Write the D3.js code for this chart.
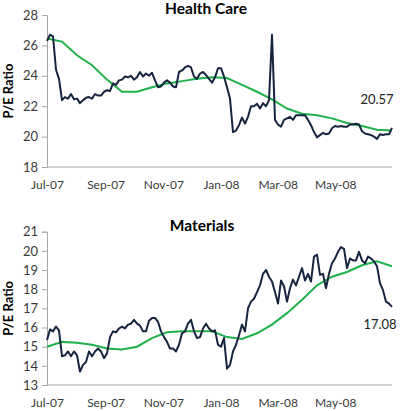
<!DOCTYPE html>
<html>
<head>
<meta charset="utf-8">
<script src="https://cdn.jsdelivr.net/npm/d3@7"></script>
<style>
  body { margin: 0; background: #fff; }
  svg { display: block; }
  .tick text { font-family: Lato, "Open Sans", sans-serif; fill: #3a3a3a; }
</style>
</head>
<body>
<div id="chart"></div>
<script>
var svgWidth = 400;
var svgHeight = 411;

// date range shown on both panels
var startDate = new Date(2007, 6, 1);
var endDate = new Date(2008, 5, 30);

var monthTicks = [new Date(2007, 6, 1), new Date(2007, 8, 1), new Date(2007, 10, 1),
                  new Date(2008, 0, 1), new Date(2008, 2, 1), new Date(2008, 4, 1)];

// Health Care P/E (evenly spaced readings across the year)
var hcPE = [26.3, 26.7, 26.6, 24.4, 23.8, 22.4, 22.6, 22.5, 22.8, 22.45,
  22.5, 22.2, 22.4, 22.55, 22.6, 22.5, 22.8, 22.7, 22.7, 22.95,
  23.05, 23.0, 23.5, 23.4, 23.7, 23.75, 23.95, 23.9, 24.0, 23.75,
  23.9, 24.25, 23.95, 24.15, 24.0, 24.2, 23.7, 23.25, 23.3, 23.55,
  23.7, 23.55, 23.3, 23.25, 24.25, 24.35, 24.55, 24.65, 24.55, 23.95,
  23.8, 24.15, 24.25, 24.05, 23.8, 23.55, 23.9, 24.5, 24.5, 23.95,
  23.25, 22.5, 20.3, 20.4, 20.75, 21.25, 20.85, 21.3, 22.0, 22.0,
  22.15, 21.85, 22.2, 22.0, 22.4, 26.7, 21.1, 20.8, 20.65, 21.1,
  21.2, 21.3, 21.1, 21.4, 21.4, 21.4, 21.4, 21.1, 20.75, 20.3,
  19.95, 20.1, 20.25, 20.15, 20.2, 20.55, 20.7, 20.65, 20.7, 20.65,
  20.65, 20.8, 20.8, 20.85, 20.8, 20.35, 20.2, 20.15, 20.1, 20.0,
  19.85, 20.15, 20.1, 20.15, 20.15, 20.57];

// Health Care moving average
var hcAvg = [26.45, 26.25, 25.35, 24.7, 23.75, 22.95, 22.95, 23.25, 23.5, 23.65,
  23.8, 23.9, 23.85, 23.4, 22.95, 22.45, 21.85, 21.5, 21.4, 21.2,
  20.9, 20.7, 20.45, 20.4];

// Materials P/E
var matPE = [15.35, 15.9, 15.8, 16.05, 15.85, 14.5, 14.55, 14.75, 14.5, 14.75,
  14.55, 13.7, 14.05, 14.2, 14.75, 14.5, 14.75, 14.9, 14.75, 14.4,
  14.65, 15.5, 15.8, 15.75, 15.95, 16.05, 15.95, 16.15, 16.2, 16.4,
  16.2, 16.1, 15.8, 15.8, 16.35, 16.5, 16.5, 16.3, 15.8, 15.5,
  15.25, 14.9, 14.9, 14.75, 15.1, 15.7, 15.8, 16.2, 16.4, 15.8,
  15.45, 15.5, 15.95, 16.2, 15.95, 15.8, 15.85, 15.1, 15.0, 15.45,
  13.85, 14.05, 14.75, 15.1, 15.6, 16.15, 15.8, 17.0, 17.35, 17.5,
  17.85, 18.2, 18.8, 19.0, 18.65, 18.4, 17.85, 17.25, 18.45, 18.15,
  17.35, 18.05, 18.5, 18.2, 18.65, 19.1, 18.45, 18.8, 18.4, 19.7,
  19.8, 18.75, 18.8, 18.05, 18.8, 19.35, 19.6, 19.95, 20.2, 20.1,
  19.1, 19.6, 19.5, 19.5, 19.95, 19.5, 19.35, 19.7, 19.6, 19.45,
  19.2, 18.3, 17.95, 17.35, 17.25, 17.08];

// Materials moving average
var matAvg = [15.0, 15.25, 15.2, 15.1, 14.9, 14.85, 15.0, 15.45, 15.75, 15.8,
  15.8, 15.8, 15.5, 15.4, 15.7, 16.15, 16.75, 17.45, 18.2, 18.65,
  18.9, 19.25, 19.45, 19.2];

var hcTicks = [18, 20, 22, 24, 26, 28];
var matTicks = [13, 14, 15, 16, 17, 18, 19, 20, 21];

var svg = d3.select("#chart").append("svg")
    .attr("width", svgWidth)
    .attr("height", svgHeight);

var xScale = d3.scaleTime()
    .domain([startDate, endDate])
    .range([47, 392]);

// spread a series evenly over the date range
function withDates(values) {
    var span = endDate - startDate;
    return values.map(function(v, i) {
        return { date: new Date(+startDate + span * i / (values.length - 1)), value: v };
    });
}

function drawPanel(opts) {
    var yScale = d3.scaleLinear()
        .domain(opts.domain)
        .range([opts.bottom, opts.top]);

    var g = svg.append("g");

    // y axis
    var leftAxis = d3.axisLeft(yScale)
        .tickValues(opts.ticks)
        .tickSize(5)
        .tickPadding(4);
    var yAxis = g.append("g")
        .attr("transform", "translate(47,0)")
        .call(leftAxis);
    yAxis.selectAll("text").attr("font-size", "13px");

    // x axis, labels only
    var bottomAxis = d3.axisBottom(xScale)
        .tickValues(monthTicks)
        .tickFormat(d3.timeFormat("%b-%y"))
        .tickSize(0)
        .tickPadding(13);
    var xAxis = g.append("g")
        .attr("transform", `translate(0, ${opts.bottom})`)
        .call(bottomAxis);
    xAxis.selectAll("text").attr("font-size", "12px");
    xAxis.select(".domain").remove();

    g.selectAll(".domain, .tick line").attr("stroke", "#a6a6a6");

    g.append("line")
        .attr("x1", 47).attr("x2", 392)
        .attr("y1", opts.bottom).attr("y2", opts.bottom)
        .attr("stroke", "#a6a6a6");

    var line = d3.line()
        .x(d => xScale(d.date))
        .y(d => yScale(d.value));

    g.append("path")
        .datum(withDates(opts.avg))
        .attr("fill", "none")
        .attr("stroke", "#1fb14a")
        .attr("stroke-width", 2)
        .attr("d", line);

    g.append("path")
        .datum(withDates(opts.values))
        .attr("fill", "none")
        .attr("stroke", "#17243f")
        .attr("stroke-width", 2)
        .attr("stroke-linejoin", "round")
        .attr("d", line);

    // title
    g.append("text")
        .attr("x", opts.titleX)
        .attr("y", opts.titleY)
        .attr("text-anchor", "middle")
        .attr("font-family", "Lato, sans-serif")
        .attr("font-weight", "bold")
        .attr("font-size", "15.5px")
        .attr("fill", "#000")
        .text(opts.title);

    // y label
    g.append("text")
        .attr("transform", `translate(13, ${(opts.top + opts.bottom) / 2}) rotate(-90)`)
        .attr("text-anchor", "middle")
        .attr("font-family", "Lato, sans-serif")
        .attr("font-weight", "bold")
        .attr("font-size", "13px")
        .attr("fill", "#000")
        .text("P/E Ratio");

    // last value label
    var last = opts.values[opts.values.length - 1];
    g.append("text")
        .attr("x", opts.lastX)
        .attr("y", opts.lastY)
        .attr("text-anchor", "middle")
        .attr("font-family", "Lato, sans-serif")
        .attr("font-size", "13px")
        .attr("fill", "#222")
        .text(last.toFixed(2));
}

drawPanel({
    title: "Health Care", titleX: 206, titleY: 14,
    domain: [18, 28], ticks: hcTicks, top: 15, bottom: 167,
    values: hcPE, avg: hcAvg, lastX: 377, lastY: 104
});

drawPanel({
    title: "Materials", titleX: 202, titleY: 231,
    domain: [13, 21], ticks: matTicks, top: 231.7, bottom: 385,
    values: matPE, avg: matAvg, lastX: 380, lastY: 329
});
</script>
</body>
</html>
